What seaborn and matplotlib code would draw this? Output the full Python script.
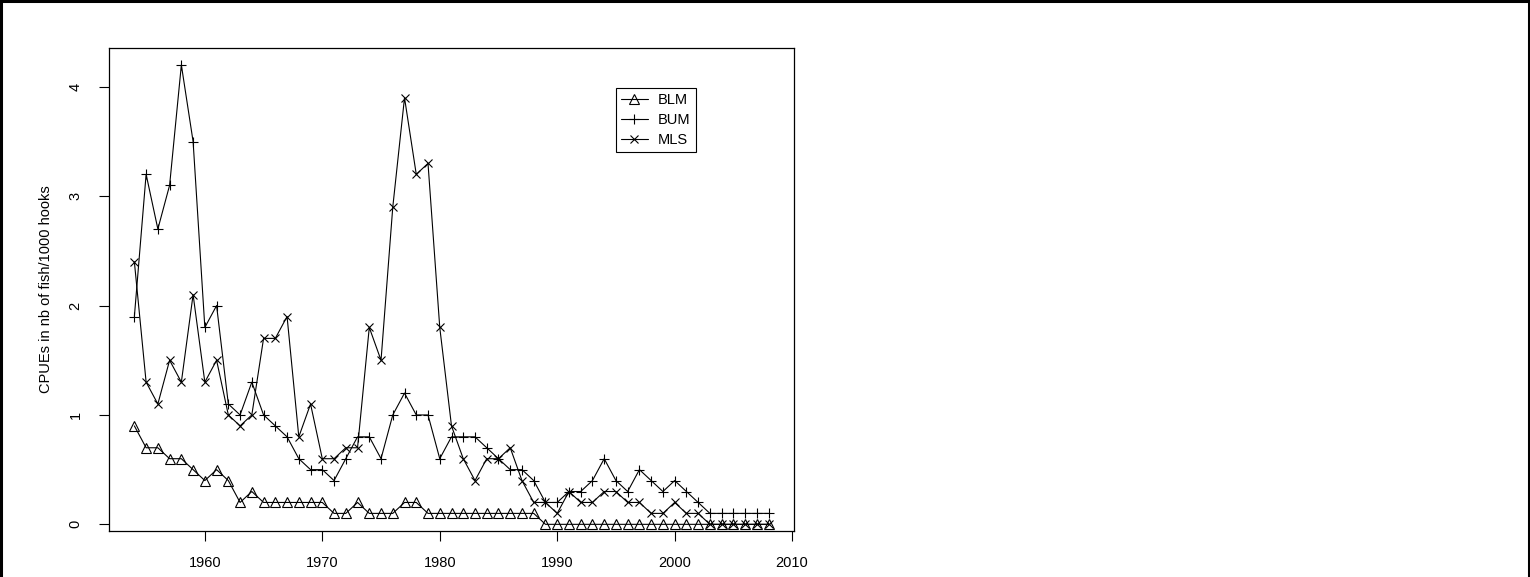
import matplotlib
matplotlib.use("Agg")
import matplotlib.pyplot as plt
import seaborn as sns
import pandas as pd
from matplotlib.patches import Rectangle

# CPUE series (fish per 1000 hooks)
years = list(range(1954, 2009))
blm = [0.9, 0.7, 0.7, 0.6, 0.6, 0.5, 0.4, 0.5, 0.4, 0.2, 0.3, 0.2, 0.2, 0.2, 0.2, 0.2, 0.2,
       0.1, 0.1, 0.2, 0.1, 0.1, 0.1, 0.2, 0.2, 0.1, 0.1, 0.1, 0.1, 0.1, 0.1, 0.1, 0.1, 0.1, 0.1,
       0, 0, 0, 0, 0, 0, 0, 0, 0, 0, 0, 0, 0, 0, 0, 0, 0, 0, 0, 0]
bum = [1.9, 3.2, 2.7, 3.1, 4.2, 3.5, 1.8, 2.0, 1.1, 1.0, 1.3, 1.0, 0.9, 0.8, 0.6, 0.5, 0.5,
       0.4, 0.6, 0.8, 0.8, 0.6, 1.0, 1.2, 1.0, 1.0, 0.6, 0.8, 0.8, 0.8, 0.7, 0.6, 0.5, 0.5, 0.4,
       0.2, 0.2, 0.3, 0.3, 0.4, 0.6, 0.4, 0.3, 0.5, 0.4, 0.3, 0.4, 0.3, 0.2,
       0.1, 0.1, 0.1, 0.1, 0.1, 0.1]
mls = [2.4, 1.3, 1.1, 1.5, 1.3, 2.1, 1.3, 1.5, 1.0, 0.9, 1.0, 1.7, 1.7, 1.9, 0.8, 1.1, 0.6,
       0.6, 0.7, 0.7, 1.8, 1.5, 2.9, 3.9, 3.2, 3.3, 1.8, 0.9, 0.6, 0.4, 0.6, 0.6, 0.7, 0.4, 0.2,
       0.2, 0.1, 0.3, 0.2, 0.2, 0.3, 0.3, 0.2, 0.2, 0.1, 0.1, 0.2, 0.1, 0.1,
       0, 0, 0, 0, 0, 0]
species = ["BLM", "BUM", "MLS"]
markers = {"BLM": "^", "BUM": "+", "MLS": "x"}
msizes = {"BLM": 6.5, "BUM": 7, "MLS": 5.5}

df = pd.DataFrame({"year": years, "BLM": blm, "BUM": bum, "MLS": mls})
df = df.melt(id_vars="year", var_name="species", value_name="cpue")

sns.set_style("white")
plt.rcParams["font.family"] = ["Liberation Sans", "DejaVu Sans"]
plt.rcParams["text.color"] = "black"
plt.rcParams["axes.labelcolor"] = "black"
plt.rcParams["xtick.color"] = "black"
plt.rcParams["ytick.color"] = "black"

fig = plt.figure(figsize=(15.3, 5.77), dpi=100)
ax = fig.add_axes([109 / 1530, 1 - 531 / 577, (794 - 109) / 1530, (531 - 48) / 577])

for sp in species:
    sns.lineplot(data=df[df.species == sp], x="year", y="cpue", ax=ax, color="black",
                 linewidth=0.8, marker=markers[sp], markersize=msizes[sp],
                 markerfacecolor="none", markeredgecolor="black", markeredgewidth=0.8,
                 label=sp)

ax.set_xlim(1951.84, 2010.16)
ax.set_ylim(-0.061, 4.355)
ax.set_xticks([1960, 1970, 1980, 1990, 2000, 2010])
ax.set_yticks([0, 1, 2, 3, 4])
ax.set_xlabel("")
ax.set_ylabel("CPUEs in nb of fish/1000 hooks", fontsize=10.5, labelpad=11)
for s in ax.spines.values():
    s.set_color("black")
    s.set_linewidth(0.9)
ax.tick_params(axis="both", direction="out", length=7, width=0.8, color="black",
               labelcolor="black", labelsize=10.5, bottom=True, left=True)
ax.tick_params(axis="x", pad=11)
ax.tick_params(axis="y", pad=12, labelrotation=90)
for t in ax.get_yticklabels():
    t.set_va("center")

leg = ax.legend(loc="upper left", bbox_to_anchor=(0.740, 0.917), borderaxespad=0,
                fancybox=False, framealpha=1, edgecolor="black", fontsize=10.5,
                handlelength=1.85, labelspacing=0.4, borderpad=0.35, handletextpad=0.7)
leg.get_frame().set_linewidth(0.8)
for t in leg.get_texts():
    t.set_color("black")

# outer frame around the device region (bottom edge cut off)
fig.patches.append(Rectangle((0.0008, -0.1), 0.9984, 1.098, transform=fig.transFigure,
                             fill=False, edgecolor="black", linewidth=2.2, clip_on=False))

fig.savefig("out.png", dpi=100)
